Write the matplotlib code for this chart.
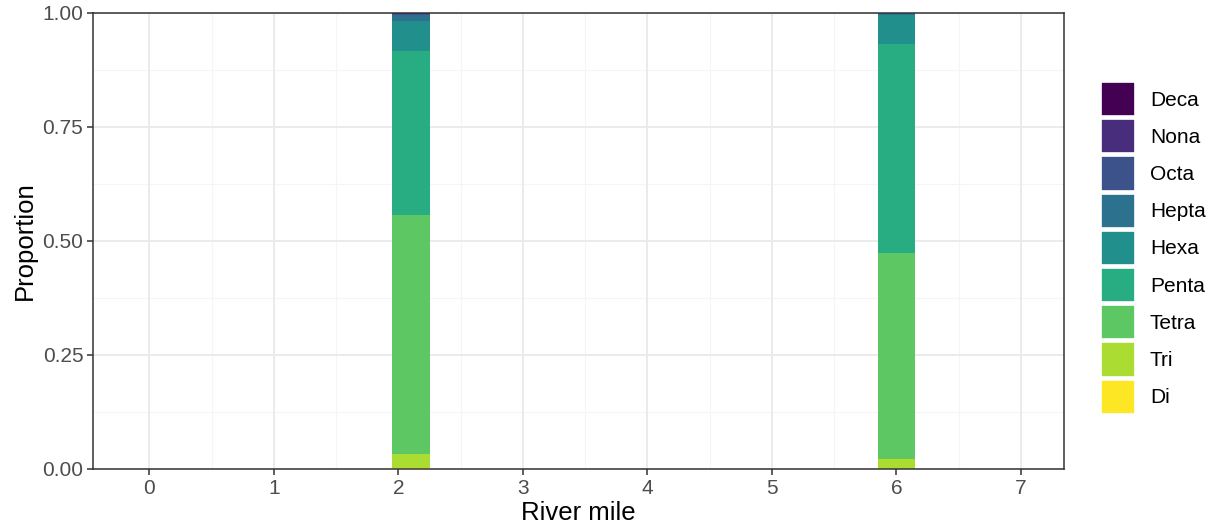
import matplotlib.pyplot as plt
from matplotlib.patches import Patch

# homolog classes, bottom of stack first
classes = ['Di', 'Tri', 'Tetra', 'Penta', 'Hexa', 'Hepta', 'Octa', 'Nona', 'Deca']
colors = ['#FDE725', '#AADC32', '#5DC863', '#27AD81', '#21908C',
          '#2C728E', '#3B528B', '#472D7B', '#440154']

river_mile = [2.1, 6.0]

di = [0.002, 0.0]
tri = [0.031, 0.023]
tetra = [0.524, 0.451]
penta = [0.360, 0.458]
hexa = [0.065, 0.064]
hepta = [0.013, 0.004]
octa = [0.002, 0.0]
nona = [0.003, 0.0]
deca = [0.0, 0.0]

props = [di, tri, tetra, penta, hexa, hepta, octa, nona, deca]

x_ticks = [0, 1, 2, 3, 4, 5, 6, 7]
y_ticks = [0.0, 0.25, 0.5, 0.75, 1.0]

plt.rcParams['font.family'] = ['Liberation Sans', 'DejaVu Sans']

fig = plt.figure(figsize=(12.12, 5.31), dpi=100)
ax = fig.add_axes([93 / 1212, 62 / 531, 971 / 1212, 456 / 531])

# grid like theme_bw
for v in [i + 0.5 for i in range(-1, 8)]:
    ax.axvline(v, color='#F5F5F5', lw=0.8, zorder=0)
for v in [0.125, 0.375, 0.625, 0.875]:
    ax.axhline(v, color='#F5F5F5', lw=0.8, zorder=0)
for v in x_ticks:
    ax.axvline(v, color='#EBEBEB', lw=1.4, zorder=0)
for v in y_ticks:
    ax.axhline(v, color='#EBEBEB', lw=1.4, zorder=0)

bottom = [0.0, 0.0]
for name, vals, col in zip(classes, props, colors):
    ax.bar(river_mile, vals, width=0.3, bottom=bottom, color=col,
           linewidth=0, label=name, zorder=2)
    bottom = [b + v for b, v in zip(bottom, vals)]

ax.set_xlim(-0.453, 7.346)
ax.set_ylim(0, 1)
ax.set_xticks(x_ticks)
ax.set_yticks(y_ticks)
ax.set_yticklabels(['0.00', '0.25', '0.50', '0.75', '1.00'])
ax.tick_params(colors='#333333', labelcolor='#4D4D4D', labelsize=15,
               length=4, width=1.1, pad=3)
for s in ax.spines.values():
    s.set_color('#333333')
    s.set_linewidth(1.1)

ax.set_xlabel('River mile', fontsize=18.5, labelpad=2)
ax.set_ylabel('Proportion', fontsize=18.5, labelpad=4)

handles = [Patch(facecolor=c, edgecolor='white', linewidth=1.2, label=n)
           for n, c in zip(classes, colors)][::-1]
fig.legend(handles=handles, loc='upper left', bbox_to_anchor=(1101 / 1212, 1 - 82 / 531),
           frameon=False, fontsize=15, handlelength=1.63, handleheight=2.14,
           labelspacing=0.15, handletextpad=0.72, borderaxespad=0, borderpad=0)

fig.savefig('out.png', dpi=100)
